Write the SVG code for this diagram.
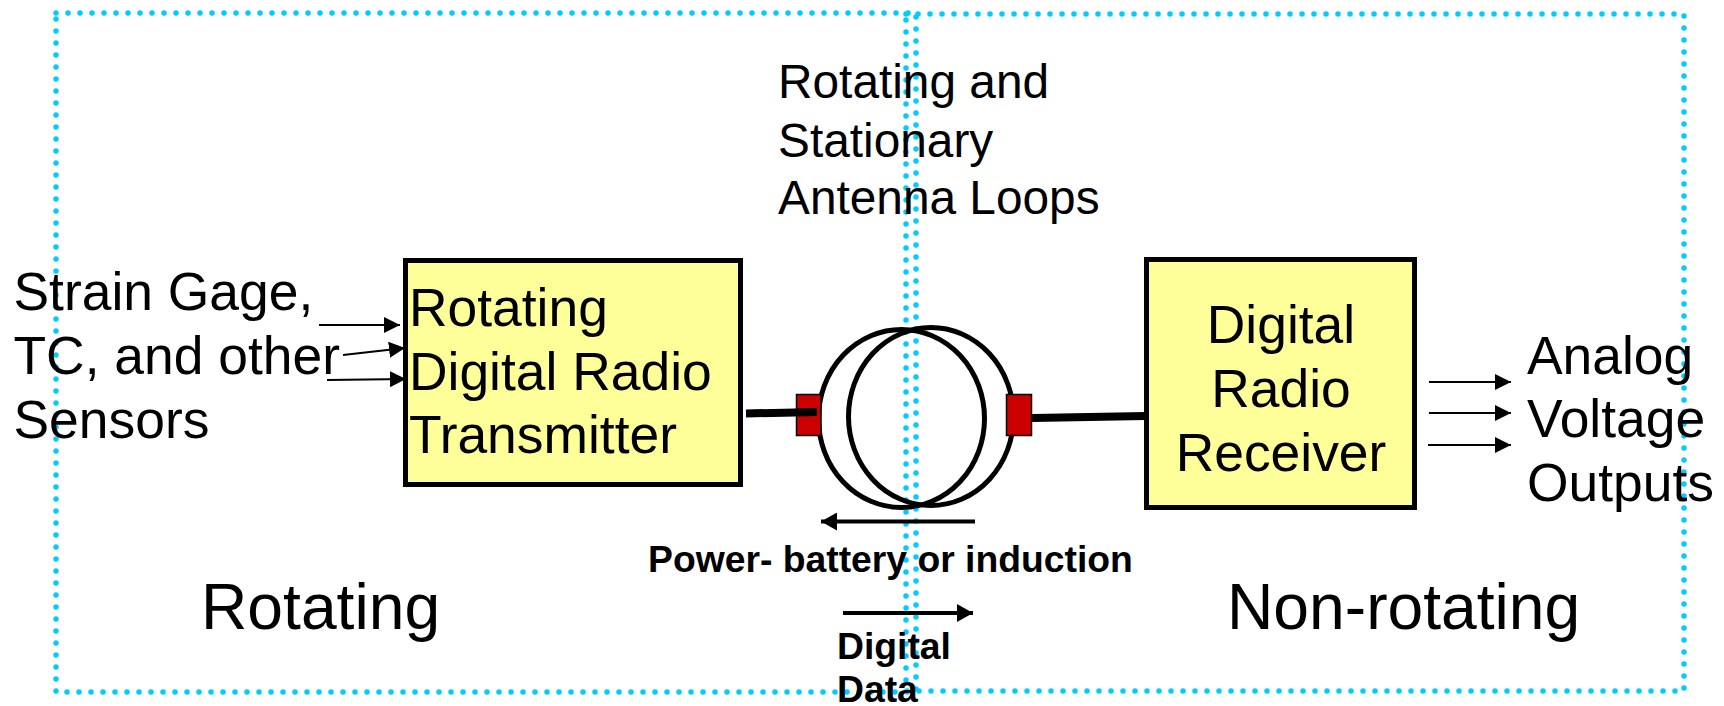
<svg xmlns="http://www.w3.org/2000/svg" width="1724" height="706" viewBox="0 0 1724 706">
<style>
text{font-family:"Liberation Sans",Arial,sans-serif;fill:#000}
.m{font-size:53.4px}.h{font-size:47.800px}.l{font-size:64.200px}.b{font-size:37.300px;font-weight:bold}
.dot{fill:none;stroke:#00ccff;stroke-width:5.5;stroke-linecap:round;stroke-dasharray:0 12}
.box{fill:#ffff99;stroke:#000;stroke-width:5}
.red{fill:#cc0000;stroke:#000;stroke-width:1.5}
.loop{fill:none;stroke:#000;stroke-width:5}
.wire{stroke:#000;stroke-width:8;fill:none}
.thin{stroke:#000;stroke-width:2;fill:none;marker-end:url(#a)}
.thick{stroke:#000;stroke-width:4;fill:none;marker-end:url(#b)}
</style>
<defs>
<marker id="a" markerUnits="userSpaceOnUse" markerWidth="17" markerHeight="16" refX="16" refY="8" orient="auto"><path d="M0 0L16 8L0 16Z" fill="#000"/></marker>
<marker id="b" markerUnits="userSpaceOnUse" markerWidth="17" markerHeight="18" refX="16" refY="9" orient="auto"><path d="M0 0L16 9L0 18Z" fill="#000"/></marker>
</defs>
<g id="region-rotating"><rect class="dot" x="56" y="13" width="860" height="679"/></g>
<g id="region-nonrotating"><rect class="dot" x="906" y="14" width="778" height="677"/></g>
<g id="antenna-loops">
<ellipse class="loop" cx="901.500" cy="418.500" rx="83" ry="89"/>
<ellipse class="loop" cx="931" cy="416.500" rx="82.500" ry="89"/>
</g>
<g id="connectors">
<path class="thin" d="M319 325H400"/>
<path class="thin" d="M343 355L405 348"/>
<path class="thin" d="M327 380L406 379"/>
<path class="thin" d="M1429 382H1511"/>
<path class="thin" d="M1429 413H1511"/>
<path class="thin" d="M1428 445H1511"/>
<path class="thick" d="M975 521.500H821"/>
<path class="thick" d="M843 613H973"/>
</g>
<g id="transmitter"><rect class="box" x="405.500" y="260.500" width="335" height="224"/>
<text class="m" x="409" y="326">Rotating</text><text class="m" x="409" y="390">Digital Radio</text><text class="m" x="409" y="453">Transmitter</text></g>
<g id="receiver"><rect class="box" x="1146.500" y="259.500" width="268" height="248"/>
<text class="m" x="1281" y="343" text-anchor="middle">Digital</text><text class="m" x="1281" y="407" text-anchor="middle">Radio</text><text class="m" x="1281" y="471" text-anchor="middle">Receiver</text></g>
<g id="wire-right"><path class="wire" d="M1032 418L1146 416"/></g>
<g id="coupler-left"><rect class="red" x="796.500" y="394.500" width="24.500" height="41"/></g>
<g id="wire-left"><path class="wire" d="M746 413.500L817 412"/></g>
<g id="coupler-right"><rect class="red" x="1006.500" y="394.500" width="25" height="41"/></g>
<g id="label-sensors"><text class="m" x="13.500" y="310">Strain Gage,</text><text class="m" x="13.500" y="374">TC, and other</text><text class="m" x="13.500" y="438">Sensors</text></g>
<g id="label-loops"><text class="h" x="778" y="98">Rotating and</text><text class="h" x="778" y="157">Stationary</text><text class="h" x="778" y="214">Antenna Loops</text></g>
<g id="label-outputs"><text class="m" x="1527" y="374">Analog</text><text class="m" x="1527" y="437">Voltage</text><text class="m" x="1527" y="501">Outputs</text></g>
<g id="label-power"><text class="b" x="648" y="572">Power- battery or induction</text></g>
<g id="label-data"><text class="b" x="837" y="659">Digital</text><text class="b" x="837" y="702">Data</text></g>
<g id="label-rotating"><text class="l" x="201" y="629">Rotating</text></g>
<g id="label-nonrotating"><text class="l" x="1227" y="629">Non-rotating</text></g>
</svg>
